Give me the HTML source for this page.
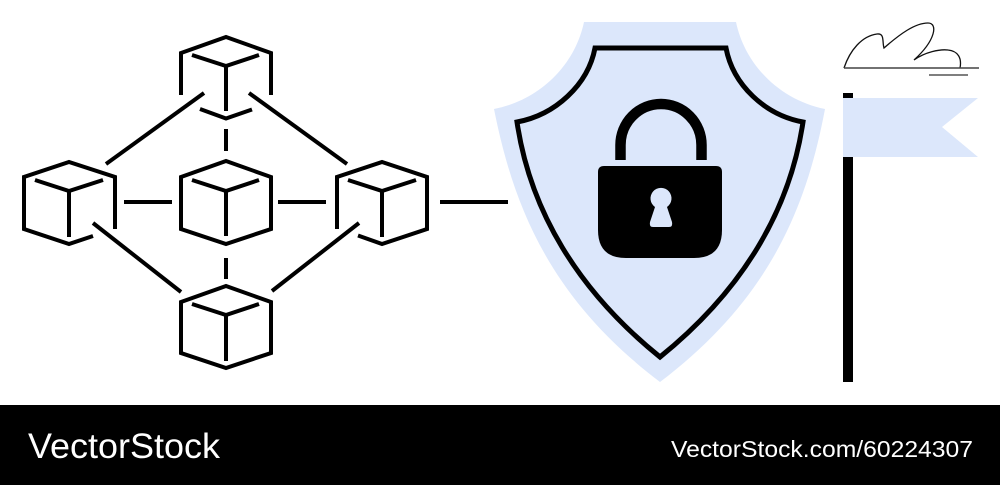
<!DOCTYPE html>
<html>
<head>
<meta charset="utf-8">
<style>
html,body{margin:0;padding:0;background:#fff;width:1000px;height:485px;overflow:hidden}
svg{display:block}
text{font-family:"Liberation Sans",sans-serif;fill:#fff}
</style>
</head>
<body>
<svg width="1000" height="485" viewBox="0 0 1000 485" xmlns="http://www.w3.org/2000/svg">
<rect width="1000" height="485" fill="#fff"/>
<!-- shield -->
<path d="M584,22 L736,22 C745,65 780,100 825,109 C806,210 768,300 660,382 C552,300 514,210 494,109 C540,100 575,65 584,22Z" fill="#dce7fb"/>
<path d="M595,48 L726,48 C733,85 765,115 803,122 C790,210 743,290 660,357 C577,290 530,210 517,122 C555,115 588,85 595,48Z" fill="#dce7fb" stroke="#000" stroke-width="5" stroke-linejoin="miter"/>
<!-- lock -->
<path d="M620.500,160 V145 A40.500,41 0 0 1 701.500,145 V160" fill="none" stroke="#000" stroke-width="10.500"/>
<path d="M604,166 H716 Q722,166 722,172 V230 Q722,258 694,258 H626 Q598,258 598,230 V172 Q598,166 604,166Z" fill="#000"/>
<path d="M655,207 A10.500,10.500 0 1 1 667,207 L672,222 Q673,227 669,227 H653 Q649,227 650,222Z" fill="#dce7fb"/>
<!-- network -->
<g fill="none" stroke="#000" stroke-width="4" stroke-linecap="butt" stroke-linejoin="miter">
<!-- top cube -->
<path d="M181,95 V53 L226,37 L271,53 V95"/>
<path d="M192,55 L226,66 L259,55"/>
<path d="M226,66 V111"/>
<path d="M200,109 L226,118.500 L252,109.500"/>
<!-- center cube -->
<path d="M181,177 L226,161 L271,177 V229 L226,244 L181,229Z"/>
<path d="M192,180 L226,191 L259,180"/>
<path d="M226,191 V236"/>
<!-- left cube -->
<path d="M115,229 V177 L69,162 L24,177 V229 L69,244 L93,236"/>
<path d="M35,180 L69,191 L103,180"/>
<path d="M69,191 V237"/>
<!-- right cube -->
<path d="M337,229 V177 L382,162 L427,177 V229 L382,244 L358,235.500"/>
<path d="M348,180 L382,191 L416,180"/>
<path d="M382,191 V237"/>
<!-- bottom cube -->
<path d="M181,302 L226,286 L271,302 V353 L226,368 L181,353Z"/>
<path d="M192,304 L226,315 L259,304"/>
<path d="M226,315 V361"/>
<!-- connectors -->
<path d="M106,164 L204,93"/>
<path d="M249,93 L347,164"/>
<path d="M124,202 H172"/>
<path d="M278,202 H326"/>
<path d="M440,202 H508"/>
<path d="M93,223 L181,292"/>
<path d="M272,291 L359,223"/>
<path d="M226,129 V151"/>
<path d="M226,258 V279"/>
</g>
<!-- flag -->
<rect x="843" y="93" width="10" height="289" fill="#000"/>
<path d="M843,98 H978 L942,127 L978,157 H843Z" fill="#dce7fb"/>
<!-- cloud -->
<path d="M844,68 C850,50 862,36 877,34 C885,33 882,42 884,48 C900,34 915,23 928,23 C938,23 936,40 914,60 C925,52 940,49 948,50 C958,51 962,58 960,68" fill="none" stroke="#111" stroke-width="1.300"/>
<path d="M844,68 H979" stroke="#444" stroke-width="1.500" fill="none"/>
<path d="M929,75 H968" stroke="#555" stroke-width="1.500" fill="none"/>
<!-- footer -->
<rect x="0" y="405" width="1000" height="80" fill="#000"/>
<text x="28" y="458" font-size="35" textLength="192" lengthAdjust="spacingAndGlyphs">VectorStock</text>
<text x="671" y="457" font-size="23" textLength="302" lengthAdjust="spacingAndGlyphs">VectorStock.com/60224307</text>
</svg>
</body>
</html>
